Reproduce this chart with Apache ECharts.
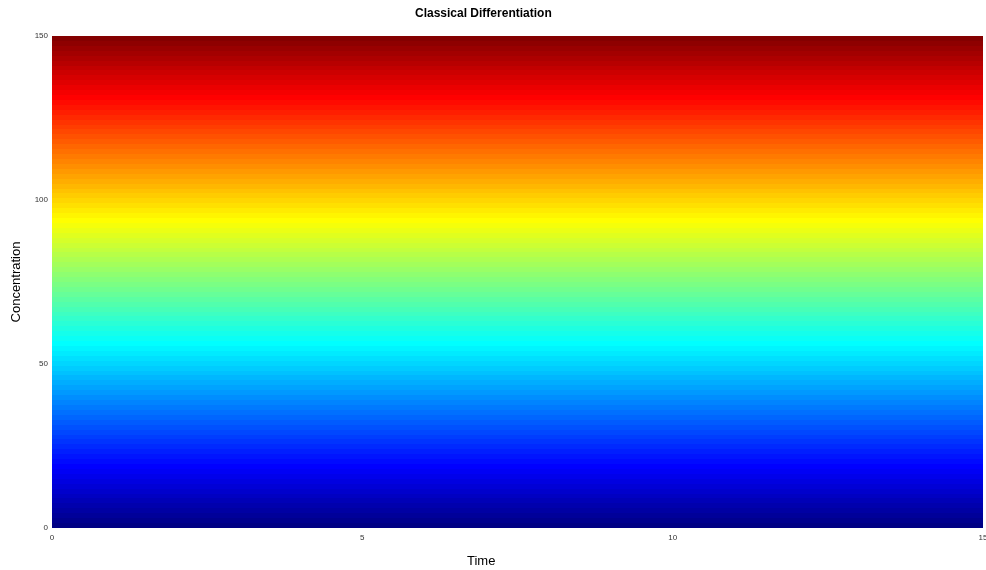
<!DOCTYPE html>
<html><head><meta charset="utf-8">
<script src="https://cdn.jsdelivr.net/npm/echarts@6/dist/echarts.min.js"></script>
<style>html,body{margin:0;padding:0;background:#fff}#c{width:986px;height:570px}</style>
</head><body><div id="c"></div>
<script>
var timeRange = [0, 15];
var levels = [0,1.5,3,4.5,6,7.5,9,10.5,12,13.5,15,16.5,18,19.5,21,22.5,24,25.5,27,28.5,30,31.5,33,34.5,36,37.5,39,40.5,42,43.5,45,46.5,48,49.5,51,52.5,54,55.5,57,58.5,60,61.5,63,64.5,66,67.5,69,70.5,72,73.5,75,76.5,78,79.5,81,82.5,84,85.5,87,88.5,90,91.5,93,94.5,96,97.5,99,100.5,102,103.5,105,106.5,108,109.5,111,112.5,114,115.5,117,118.5,120,121.5,123,124.5,126,127.5,129,130.5,132,133.5,135,136.5,138,139.5,141,142.5,144,145.5,147,148.5,150];
var xTicks = [0, 5, 10, 15];
var yTicks = [0, 50, 100, 150];
var jet = ['#00007f','#0000ff','#007fff','#00ffff','#7fff7f','#ffff00','#ff7f00','#ff0000','#7f0000'];

var bands = [];
for (var i = 0; i < levels.length - 1; i++) {
  bands.push([timeRange[0], timeRange[1], levels[i], levels[i+1], (levels[i] + levels[i+1]) / 2]);
}
var font = 'Liberation Sans, Arial, sans-serif';
var chart = echarts.init(document.getElementById('c'));
chart.setOption({
  animation: false,
  title: [
    { text: 'Classical Differentiation', left: 410, top: 3,
      textStyle: { fontFamily: font, fontSize: 12, fontWeight: 'bold', color: '#000' } },
    { text: 'Time', left: 462, top: 550,
      textStyle: { fontFamily: font, fontSize: 13, fontWeight: 'normal', color: '#000' } }
  ],
  grid: { left: 52, right: 3, top: 36, bottom: 42, containLabel: false, outerBoundsMode: 'none' },
  xAxis: { type: 'value', min: timeRange[0], max: timeRange[1], interval: 5,
    axisLine: { show: false }, axisTick: { show: false }, splitLine: { show: false },
    axisLabel: { fontFamily: font, fontSize: 8, color: '#333', margin: 6 } },
  yAxis: { type: 'value', min: 0, max: 150, interval: 50,
    name: 'Concentration', nameLocation: 'middle', nameGap: 29, nameRotate: 90,
    nameTextStyle: { fontFamily: font, fontSize: 13, color: '#000' },
    axisLine: { show: false }, axisTick: { show: false }, splitLine: { show: false },
    axisLabel: { fontFamily: font, fontSize: 8, color: '#333', margin: 4 } },
  visualMap: { show: false, type: 'continuous', min: 0, max: 150, dimension: 4,
    inRange: { color: jet } },
  series: [{
    type: 'custom',
    data: bands,
    encode: { x: [0, 1], y: [2, 3] },
    renderItem: function (params, api) {
      var p0 = api.coord([api.value(0), api.value(3)]);
      var p1 = api.coord([api.value(1), api.value(2)]);
      var y0 = Math.round(p0[1]), y1 = Math.round(p1[1]);
      return { type: 'rect',
        shape: { x: Math.round(p0[0]), y: y0, width: Math.round(p1[0]) - Math.round(p0[0]), height: y1 - y0 },
        style: { fill: api.visual('color'), stroke: null } };
    }
  }]
});
</script></body></html>
